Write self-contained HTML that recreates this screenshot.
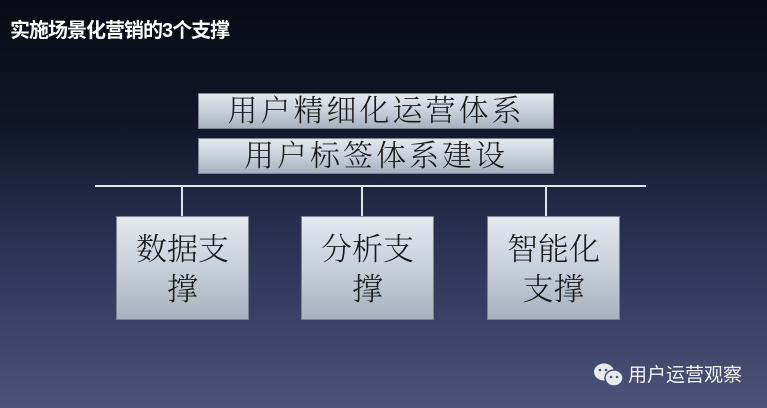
<!DOCTYPE html>
<html><head><meta charset="utf-8"><style>
body{margin:0;width:767px;height:408px;overflow:hidden;background:linear-gradient(180deg,#080a14 0%,#101628 30%,#2a3354 60%,#4b5478 100%);position:relative;font-family:"Liberation Serif","Noto Serif CJK SC",serif}
.t{position:absolute;left:10px;top:14px;color:#fff;font:bold 20px "Liberation Sans","Noto Sans CJK SC",sans-serif;letter-spacing:-1px}
.b{position:absolute;background:linear-gradient(180deg,#e4e8ee 0%,#c8d0da 50%,#a6b2c0 100%);color:#1a1a1a;text-align:center;box-sizing:border-box;border:1px solid #7a8494}
.w{left:198px;width:356px;font-size:30px;line-height:35px;height:36px;letter-spacing:3px;font-weight:300}
.s{top:216px;width:133px;height:104px;font-size:31px;line-height:40px;padding-top:13px;font-weight:300}
.l{position:absolute;background:#dfe3ea}
.wm{position:absolute;left:628px;top:360px;color:#f0f2f6;font:19px "Liberation Sans","Noto Sans CJK SC",sans-serif}
</style></head><body>
<div class="t">实施场景化营销的3个支撑</div>
<div class="b w" style="top:93px">用户精细化运营体系</div>
<div class="b w" style="top:138px">用户标签体系建设</div>
<div class="l" style="left:95px;top:185px;width:551px;height:2px"></div>
<div class="l" style="left:181px;top:186px;width:2px;height:30px"></div>
<div class="l" style="left:361px;top:186px;width:2px;height:30px"></div>
<div class="l" style="left:545px;top:186px;width:2px;height:30px"></div>
<div class="b s" style="left:116px">数据支<br>撑</div>
<div class="b s" style="left:301px">分析支<br>撑</div>
<div class="b s" style="left:487px">智能化<br>支撑</div>
<svg style="position:absolute;left:592px;top:362px" width="34" height="26"><ellipse cx="12" cy="10" rx="10" ry="8.5" fill="#e8eaee"/><ellipse cx="22" cy="16" rx="9" ry="8" fill="#e8eaee" stroke="#4a5276" stroke-width="1.5"/><circle cx="19" cy="15" r="1.3" fill="#4a5276"/><circle cx="25" cy="15" r="1.3" fill="#4a5276"/><circle cx="8" cy="8" r="1.3" fill="#4a5276"/><circle cx="14" cy="8" r="1.3" fill="#4a5276"/></svg>
<div class="wm">用户运营观察</div>
</body></html>
